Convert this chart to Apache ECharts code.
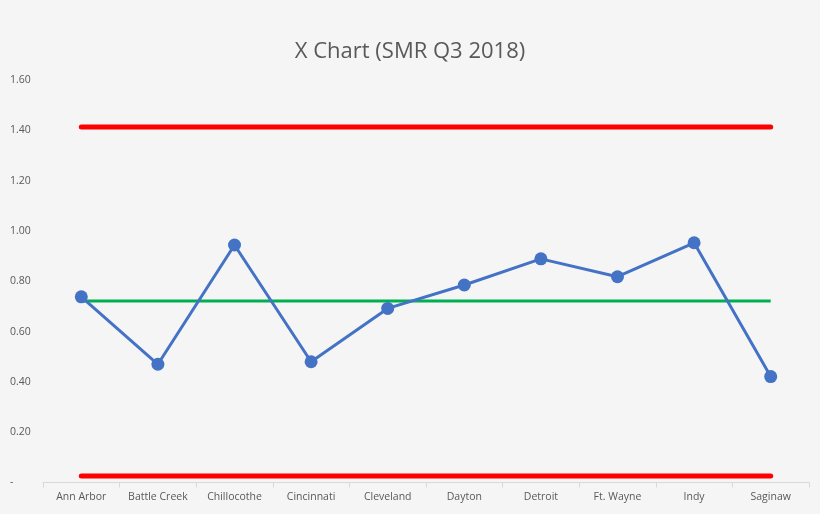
<!DOCTYPE html>
<html>
<head>
<meta charset="utf-8">
<script src="https://cdn.jsdelivr.net/npm/echarts@6/dist/echarts.min.js"></script>
<style>
html,body{margin:0;padding:0;background:#f5f5f5;}
#c{width:820px;height:514px;}
</style>
</head>
<body>
<div id="c"></div>
<script>
const titleText = 'X Chart (SMR Q3 2018)';
const categories = ['Ann Arbor','Battle Creek','Chillocothe','Cincinnati','Cleveland','Dayton','Detroit','Ft. Wayne','Indy','Saginaw'];
const smrValues = [0.738,0.470,0.944,0.480,0.692,0.785,0.889,0.818,0.953,0.421];
const ucl = [1.413,1.413,1.413,1.413,1.413,1.413,1.413,1.413,1.413,1.413];
const mean = [0.721,0.721,0.721,0.721,0.721,0.721,0.721,0.721,0.721,0.721];
const lcl = [0.026,0.026,0.026,0.026,0.026,0.026,0.026,0.026,0.026,0.026];
const yTicks = {min:0, max:1.6, interval:0.2};

const chart = echarts.init(document.getElementById('c'));
const font = 'Open Sans, Liberation Sans, sans-serif';
chart.setOption({
  backgroundColor:'#f5f5f5',
  animation:false,
  title:{text:titleText,left:'center',top:36,textStyle:{fontFamily:font,fontSize:22,fontWeight:'normal',color:'#595959'}},
  grid:{left:43,right:11,top:80,bottom:31.5},
  xAxis:{type:'category',data:categories,boundaryGap:true,
    axisLine:{lineStyle:{color:'#d9d9d9',width:1}},
    axisTick:{show:true,length:5,lineStyle:{color:'#d9d9d9'}},
    axisLabel:{color:'#595959',fontFamily:font,fontSize:10.5,margin:9,interval:0}},
  yAxis:{type:'value',min:yTicks.min,max:yTicks.max,interval:yTicks.interval,
    splitLine:{show:false},axisLine:{show:false},axisTick:{show:false},
    axisLabel:{color:'#595959',fontFamily:font,fontSize:10.5,align:'left',margin:33,
      formatter:v=>v===0?'-':v.toFixed(2)}},
  series:[
    {name:'UCL',type:'line',data:ucl,symbol:'none',lineStyle:{color:'#ff0000',width:5,cap:'round'},z:2},
    {name:'LCL',type:'line',data:lcl,symbol:'none',lineStyle:{color:'#ff0000',width:5,cap:'round'},z:2},
    {name:'Mean',type:'line',data:mean,symbol:'none',lineStyle:{color:'#00b050',width:3},z:2},
    {name:'SMR',type:'line',data:smrValues,symbol:'circle',symbolSize:13,
      itemStyle:{color:'#4472c4'},lineStyle:{color:'#4472c4',width:3},z:3}
  ]
});
</script>
</body>
</html>
